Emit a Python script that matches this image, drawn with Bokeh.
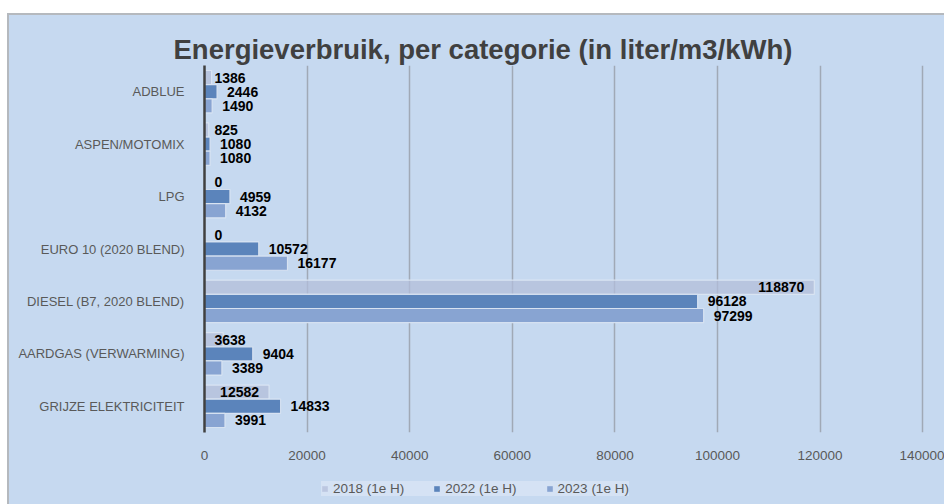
from bokeh.plotting import figure
from bokeh.models import (FactorRange, Range1d, ColumnDataSource, Legend, LegendItem,
                          FixedTicker, NumeralTickFormatter, Spacer)
from bokeh.transform import dodge
from bokeh.layouts import column, row
from bokeh.core.properties import value
from bokeh.embed import file_html
from bokeh.resources import INLINE

categories = ["ADBLUE", "ASPEN/MOTOMIX", "LPG", "EURO 10 (2020 BLEND)",
              "DIESEL (B7, 2020 BLEND)", "AARDGAS (VERWARMING)", "GRIJZE ELEKTRICITEIT"]
v2018 = [1386, 825, 0, 0, 118870, 3638, 12582]
v2022 = [2446, 1080, 4959, 10572, 96128, 9404, 14833]
v2023 = [1490, 1080, 4132, 16177, 97299, 3389, 3991]
series_names = ["2018 (1e H)", "2022 (1e H)", "2023 (1e H)"]
x_ticks = [0, 20000, 40000, 60000, 80000, 100000, 120000, 140000]

BG = "#c6d9f0"
COLORS = ["#b3bed9", "#5b84bb", "#88a4d2"]
ALPHAS = [0.75, 1.0, 1.0]
FONT = "Liberation Sans"
EDGE = "#b5b9be"

X_MAX = 144250
FRAME_W = 740
px_per_unit = FRAME_W / X_MAX

p = figure(width=935, height=451, output_backend="svg", toolbar_location=None,
           y_range=FactorRange(factors=list(reversed(categories))),
           x_range=Range1d(0, X_MAX),
           min_border_left=195, min_border_right=0, min_border_top=50, min_border_bottom=34)
p.background_fill_color = BG
p.border_fill_color = BG
p.outline_line_color = None

p.title.text = "Energieverbruik, per categorie (in liter/m3/kWh)"
p.title.align = "left"
p.title.offset = -31
p.title.standoff = 1
p.title.text_font = FONT
p.title.text_font_style = "bold"
p.title.text_font_size = "27.5px"
p.title.text_color = "#404040"

data = dict(cat=categories, v2018=v2018, v2022=v2022, v2023=v2023)
# label placement for the first series: inside end when the bar is long enough
x18, off18, al18 = [], [], []
for v in v2018:
    w = 7.8 * len(str(v))
    if v * px_per_unit > w + 20:
        x18.append(v); off18.append(-10); al18.append("right")
    else:
        x18.append(0); off18.append(10); al18.append("left")
data.update(x18=x18, off18=off18, al18=al18,
            t2018=[str(v) for v in v2018], t2022=[str(v) for v in v2022],
            t2023=[str(v) for v in v2023])
src = ColumnDataSource(data)

H = 0.27
offsets = [H, 0.0, -H]
keys = ["v2018", "v2022", "v2023"]
for key, off, col, a in zip(keys, offsets, COLORS, ALPHAS):
    p.hbar(y=dodge("cat", off, range=p.y_range), right=key, left=0, height=H,
           source=src, fill_color=col, fill_alpha=a,
           line_color="#dbe5f3", line_width=1.2, line_alpha=0.9)

p.text(x="x18", y=dodge("cat", H, range=p.y_range), text="t2018", source=src,
       x_offset="off18", text_align="al18", text_baseline="middle",
       text_font=value(FONT), text_font_style="bold", text_font_size="14px", text_color="#000000")
for key, t, off in [("v2022", "t2022", 0.0), ("v2023", "t2023", -H)]:
    p.text(x=key, y=dodge("cat", off, range=p.y_range), text=t, source=src,
           x_offset=10, text_align="left", text_baseline="middle",
           text_font=value(FONT), text_font_style="bold", text_font_size="14px",
           text_color="#000000")

# axes
p.yaxis.axis_line_color = "#404040"
p.yaxis.axis_line_width = 2.5
p.yaxis.major_tick_line_color = None
p.yaxis.minor_tick_line_color = None
p.yaxis.major_label_text_font = FONT
p.yaxis.major_label_text_font_size = "13px"
p.yaxis.major_label_text_color = "#595959"
p.yaxis.major_label_standoff = 14

p.xaxis.axis_line_color = None
p.xaxis.major_tick_line_color = None
p.xaxis.minor_tick_line_color = None
p.xaxis.ticker = FixedTicker(ticks=x_ticks)
p.xaxis.formatter = NumeralTickFormatter(format="0")
p.xaxis.major_label_text_font = FONT
p.xaxis.major_label_text_font_size = "13.5px"
p.xaxis.major_label_text_color = "#595959"
p.xaxis.major_label_standoff = 12

p.ygrid.grid_line_color = None
p.xgrid.ticker = FixedTicker(ticks=x_ticks)
p.xgrid.grid_line_color = "#a0a9b6"
p.xgrid.grid_line_width = 1.5

# legend strip below the chart (axis-less figure; its bars lie outside its view)
lg = figure(width=935, height=38, output_backend="svg", toolbar_location=None,
            x_range=Range1d(-2, -1), y_range=FactorRange(factors=list(reversed(categories))),
            x_axis_type=None, y_axis_type=None,
            min_border_left=195, min_border_right=0, min_border_top=0, min_border_bottom=0)
lg.background_fill_alpha = 0
lg.border_fill_alpha = 0
lg.outline_line_color = None
lg.grid.grid_line_color = None
leg_renderers = [lg.hbar(y=dodge("cat", off, range=lg.y_range), right=key, left=0, height=H,
                         source=src, fill_color=c, fill_alpha=a, line_color=None)
                 for key, off, c, a in zip(keys, offsets, COLORS, ALPHAS)]
legend = Legend(items=[LegendItem(label=n, renderers=[r]) for n, r in zip(series_names, leg_renderers)],
                orientation="horizontal", location=(117, 8),
                glyph_width=7, glyph_height=7, label_standoff=5, spacing=29,
                padding=7, margin=0, label_height=14,
                label_text_font=FONT, label_text_font_size="13.5px", label_text_color="#595959",
                background_fill_color="#d5e2f4", background_fill_alpha=1.0,
                border_line_color=None)
lg.add_layout(legend, "center")

top_edge = Spacer(width=935, height=2, styles={"background-color": EDGE})
left_edge = Spacer(width=2, height=491, styles={"background-color": EDGE})
inner = column(top_edge, p, lg, spacing=0, styles={"background-color": BG})
layout = column(Spacer(width=944, height=13),
                row(Spacer(width=7, height=491), left_edge, inner, spacing=0),
                spacing=0)
open("out.html", "w").write(file_html(layout, INLINE))
